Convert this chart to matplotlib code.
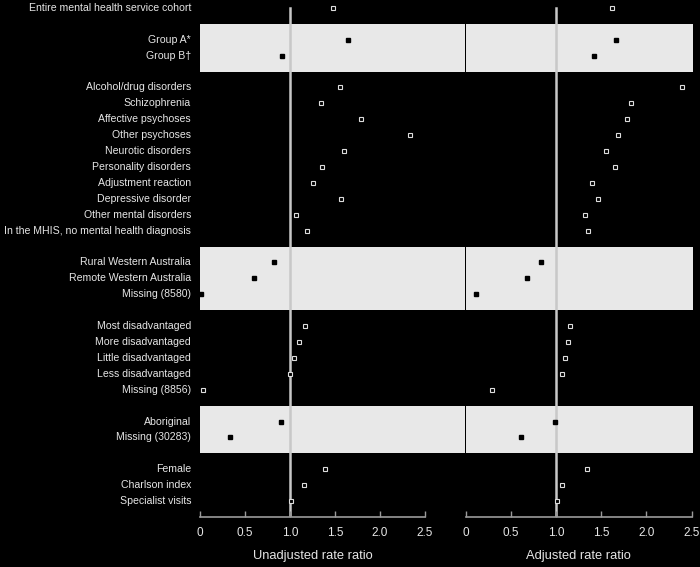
import matplotlib

matplotlib.use("Agg")
import matplotlib.pyplot as plt
from matplotlib.transforms import blended_transform_factory

plt.rcParams["font.family"] = ["Liberation Sans", "DejaVu Sans"]

# ------------------------------------------------------------------ data ---
GROUPS = [
    ["Entire mental health service cohort"],
    ["Group A*", "Group B\u2020"],
    ["Alcohol/drug disorders", "Schizophrenia", "Affective psychoses",
     "Other psychoses", "Neurotic disorders", "Personality disorders",
     "Adjustment reaction", "Depressive disorder", "Other mental disorders",
     "In the MHIS, no mental health diagnosis"],
    ["Rural Western Australia", "Remote Western Australia", "Missing (8580)"],
    ["Most disadvantaged", "More disadvantaged", "Little disadvantaged",
     "Less disadvantaged", "Missing (8856)"],
    ["Aboriginal", "Missing (30283)"],
    ["Female", "Charlson index", "Specialist visits"],
]
SHADED = [False, True, False, True, False, True, False]

UNADJUSTED = [
    [1.48],
    [1.64, 0.91],
    [1.56, 1.34, 1.79, 2.33, 1.60, 1.35, 1.25, 1.57, 1.07, 1.19],
    [0.82, 0.60, 0.01],
    [1.17, 1.10, 1.04, 1.00, 0.03],
    [0.90, 0.33],
    [1.39, 1.16, 1.01],
]
ADJUSTED = [
    [1.62],
    [1.66, 1.42],
    [2.40, 1.83, 1.79, 1.69, 1.55, 1.65, 1.40, 1.47, 1.32, 1.36],
    [0.83, 0.68, 0.12],
    [1.16, 1.13, 1.10, 1.07, 0.29],
    [0.99, 0.61],
    [1.34, 1.07, 1.01],
]
TICKS = [0, 0.5, 1.0, 1.5, 2.0, 2.5]
TICK_LABELS = ["0", "0.5", "1.0", "1.5", "2.0", "2.5"]

# ---------------------------------------------------------------- layout ---
W, H = 700, 567
TXT = "#e6e6e6"
BAND = "#e8e8e8"
REF = "#c8c8c8"

# row positions: one blank row between groups
rows = []
pos = 0
for g in GROUPS:
    rows.append(list(range(pos, pos + len(g))))
    pos += len(g) + 1
last_row = rows[-1][-1]

fig = plt.figure(figsize=(W / 100, H / 100), dpi=100, facecolor="black")
ax_bottom = 1 - 517 / H
ax_height = 517 / H
axL = fig.add_axes([200 / W, ax_bottom, 265 / W, ax_height])
axR = fig.add_axes([465.5 / W, ax_bottom, 227 / W, ax_height])


def setup(ax, xmax, values, xlabel, label_x):
    ax.set_facecolor("black")
    ax.set_xlim(0, xmax)
    ax.set_ylim(last_row + 1.0, -0.5)
    for r, shade in zip(rows, SHADED):
        if shade:
            ax.axhspan(r[0] - 1.0, r[-1] + 1.0, color=BAND, lw=0, zorder=0)
    ax.plot([1, 1], [0, last_row + 1.0], color=REF, lw=1.8, zorder=1)
    for r, vals, shade in zip(rows, values, SHADED):
        if shade:
            ax.plot(vals, r, ls="none", marker="s", ms=3.2, mfc="black",
                    mec="black", zorder=3)
        else:
            ax.plot(vals, r, ls="none", marker="s", ms=3.2, mfc="black",
                    mec="#dddddd", mew=0.8, zorder=3)
    for s in ["top", "right", "left"]:
        ax.spines[s].set_visible(False)
    ax.spines["bottom"].set_color("#9a9a9a")
    ax.spines["bottom"].set_linewidth(1.2)
    ax.spines["bottom"].set_bounds(0, 2.5)
    ax.set_yticks([])
    ax.set_xticks(TICKS)
    ax.set_xticklabels(TICK_LABELS)
    ax.tick_params(axis="x", direction="in", length=4, width=1, color="#9a9a9a",
                   labelcolor=TXT, labelsize=8.5, pad=7)
    fig.text(label_x / W, 1 - 556 / H, xlabel, color=TXT, fontsize=9.3,
             ha="center", va="center")


setup(axL, 265 / 90.0, UNADJUSTED, "Unadjusted rate ratio", 313)
setup(axR, 227 / 90.4, ADJUSTED, "Adjusted rate ratio", 578)

# row labels, right aligned left of the left panel
trans = blended_transform_factory(fig.transFigure, axL.transData)
for r, names in zip(rows, GROUPS):
    for y, name in zip(r, names):
        axL.text(191 / W, y, name, transform=trans, ha="right", va="center",
                 color=TXT, fontsize=7.6, clip_on=False)

fig.savefig("out.png", dpi=100, facecolor="black")
